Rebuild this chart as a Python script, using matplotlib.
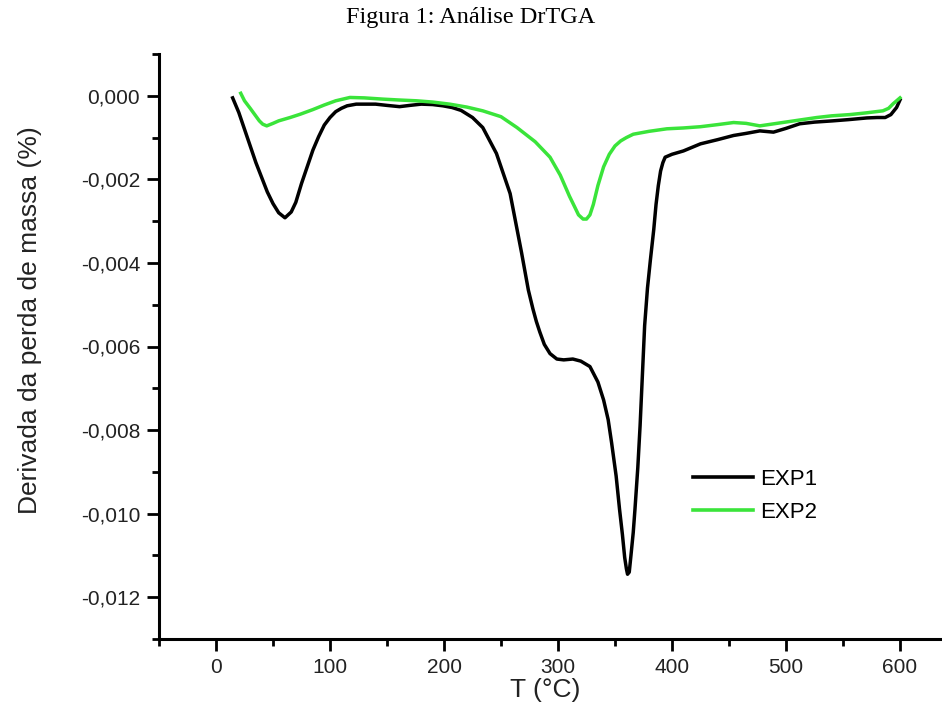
import matplotlib
matplotlib.use("Agg")
import matplotlib.pyplot as plt
from matplotlib.ticker import MultipleLocator, FuncFormatter

# Temperature (°C) and DrTGA values (x 0.001)
t_exp1 = [14.6, 20, 25, 30, 35, 40, 45, 50, 55, 60.5, 66, 70, 75, 80, 85, 90, 95,
          100, 105, 110, 115, 123, 140, 150, 161, 170, 180, 190, 199, 207, 215,
          225, 234, 246, 258, 268, 274, 278, 281, 284, 288, 293, 299, 305, 313,
          320, 328, 335, 340, 344, 347, 351, 354, 356.5, 358.5, 360, 361, 362.5,
          364, 366, 367.5, 370, 372, 374, 376, 378.5, 381, 384, 386, 388, 390,
          392, 394, 400, 410, 425, 440, 454, 465, 477, 489, 500, 512, 525, 541,
          555, 571, 580, 587, 592, 597, 600]
d_exp1 = [-0.05, -0.4, -0.8, -1.2, -1.6, -1.95, -2.3, -2.58, -2.8, -2.92, -2.78,
          -2.55, -2.1, -1.7, -1.3, -0.98, -0.7, -0.52, -0.38, -0.3, -0.24, -0.2,
          -0.2, -0.23, -0.26, -0.23, -0.2, -0.21, -0.24, -0.28, -0.35, -0.52,
          -0.76, -1.38, -2.34, -3.75, -4.65, -5.1, -5.4, -5.65, -5.95, -6.17,
          -6.3, -6.32, -6.3, -6.35, -6.48, -6.85, -7.28, -7.75, -8.3, -9.1, -9.9,
          -10.5, -11.05, -11.32, -11.45, -11.4, -11.0, -10.45, -9.9, -8.9, -7.9,
          -6.7, -5.5, -4.6, -3.94, -3.2, -2.6, -2.15, -1.8, -1.6, -1.47, -1.4,
          -1.32, -1.15, -1.05, -0.95, -0.9, -0.84, -0.87, -0.78, -0.67, -0.63,
          -0.6, -0.57, -0.53, -0.52, -0.52, -0.45, -0.28, -0.1]

t_exp2 = [21.7, 25, 30, 34, 38, 41, 44.5, 50, 55, 65, 74, 85, 95, 105, 117.5,
          130, 146.5, 160, 176, 190, 205, 220, 234, 250, 264, 280, 293, 302, 310,
          315, 318, 322, 325, 328, 331, 335, 340, 345, 350, 355, 360, 366, 380,
          395.5, 410, 425, 440, 454, 465, 477, 487, 497, 512, 527, 540, 556, 570,
          585, 590, 594, 597, 600]
d_exp2 = [0.06, -0.12, -0.3, -0.45, -0.6, -0.68, -0.72, -0.66, -0.6, -0.52,
          -0.44, -0.33, -0.22, -0.12, -0.04, -0.05, -0.08, -0.1, -0.12, -0.15,
          -0.2, -0.27, -0.36, -0.5, -0.76, -1.1, -1.47, -1.9, -2.4, -2.68, -2.85,
          -2.95, -2.95, -2.85, -2.6, -2.15, -1.7, -1.4, -1.2, -1.08, -1.0, -0.92,
          -0.85, -0.79, -0.77, -0.74, -0.69, -0.64, -0.66, -0.72, -0.68, -0.64,
          -0.58, -0.52, -0.48, -0.45, -0.41, -0.36, -0.3, -0.19, -0.12, -0.05]

labels = ["EXP1", "EXP2"]
colors = ["#000000", "#3ae43a"]

W, H = 942, 724
fig = plt.figure(figsize=(W / 100, H / 100), dpi=100)
plt.rcParams['font.family'] = ['Liberation Sans', 'DejaVu Sans']

# axes box: x from -50 to 650 (cropped at right edge like the original)
ax = fig.add_axes([159 / W, (H - 639) / H, 798 / W, 585 / H])

ax.plot(t_exp1, [v / 1000 for v in d_exp1], color=colors[0], lw=2.5, label=labels[0])
ax.plot(t_exp2, [v / 1000 for v in d_exp2], color=colors[1], lw=2.5, label=labels[1])

ax.set_xlim(-50, 650)
ax.set_ylim(-0.013, 0.001)

ax.spines['top'].set_visible(False)
ax.spines['right'].set_visible(False)
for s in ['left', 'bottom']:
    ax.spines[s].set_linewidth(2.2)

ax.xaxis.set_major_locator(MultipleLocator(100))
ax.xaxis.set_minor_locator(MultipleLocator(50))
ax.yaxis.set_major_locator(MultipleLocator(0.002))
ax.yaxis.set_minor_locator(MultipleLocator(0.001))


def fmt_y(v, pos):
    if abs(v) < 1e-9:
        return "0,000"
    return f"{v:.3f}".replace('.', ',')


ax.yaxis.set_major_formatter(FuncFormatter(fmt_y))
ax.tick_params(which='major', direction='out', length=8.5, width=2.0,
               labelsize=15, pad=5, colors='black', labelcolor='#222222')
ax.tick_params(which='minor', direction='out', length=5, width=2.0)

leg = ax.legend(loc='upper left', bbox_to_anchor=(693 / W, 1 - 469 / H),
                bbox_transform=fig.transFigure, frameon=False, fontsize=16,
                borderpad=0, borderaxespad=0, handlelength=2.7,
                handletextpad=0.3, labelspacing=0.55)
for line in leg.get_lines():
    line.set_linewidth(2.6)

fig.text(0.5, 1 - 18 / H, "Figura 1: Análise DrTGA", ha='center', va='center',
         fontsize=17.5, family=['Liberation Serif', 'DejaVu Serif'])
fig.text(545 / W, 1 - 690 / H, "T (°C)", ha='center', va='center', fontsize=19,
         color='#222222')
fig.text(30 / W, 1 - 320 / H, "Derivada da perda de massa (%)", ha='center',
         va='center', rotation=90, fontsize=19, color='#222222')

fig.savefig("out.png", dpi=100)
